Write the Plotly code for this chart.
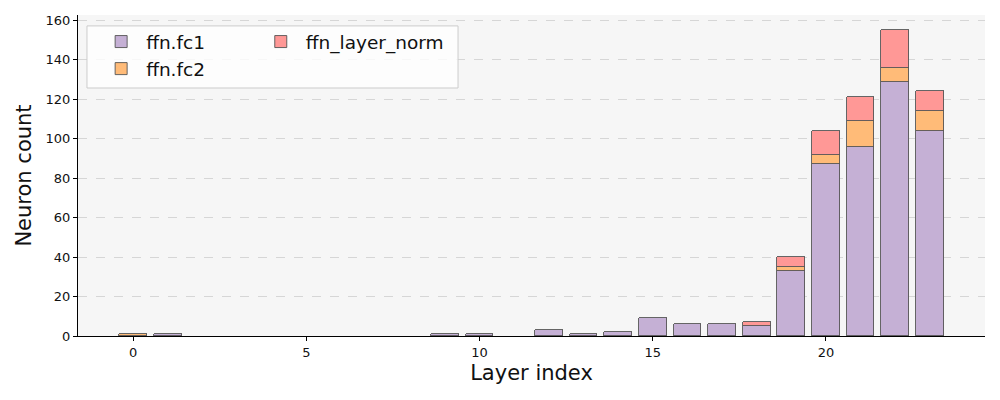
import plotly.graph_objects as go

layers = list(range(24))
fc1 = [0, 1, 0, 0, 0, 0, 0, 0, 0, 1, 1, 0, 3, 1, 2, 9, 6, 6, 5, 33, 87, 96, 129, 104]
fc2 = [1, 0, 0, 0, 0, 0, 0, 0, 0, 0, 0, 0, 0, 0, 0, 0, 0, 0, 0, 2, 5, 13, 7, 10]
norm = [0, 0, 0, 0, 0, 0, 0, 0, 0, 0, 0, 0, 0, 0, 0, 0, 0, 0, 2, 5, 12, 12, 19, 10]

series = [
    ("ffn.fc1", fc1, "#c5b0d5", "legend"),
    ("ffn.fc2", fc2, "#ffbb78", "legend"),
    ("ffn_layer_norm", norm, "#ff9896", "legend2"),
]

fig = go.Figure()
for name, vals, color, leg in series:
    # zero-height segments are not drawn (no visible edge line)
    yvals = [v if v != 0 else None for v in vals]
    fig.add_trace(go.Bar(
        x=layers, y=yvals, name=name, width=0.8,
        marker=dict(color=color, line=dict(color="#555555", width=0.9)),
        legend=leg,
    ))

font = "DejaVu Sans"
fig.update_layout(
    width=992, height=392,
    barmode="stack",
    paper_bgcolor="white",
    plot_bgcolor="#f6f6f6",
    margin=dict(l=70, r=15, t=7, b=64, autoexpand=False),
    font=dict(family=font, color="#111111"),
    xaxis=dict(
        range=[-1.59, 24.59], tickvals=[0, 5, 10, 15, 20],
        ticks="outside", ticklen=4, tickcolor="black",
        tickfont=dict(size=13, color="#111"),
        showgrid=False, zeroline=False, automargin=False,
        showline=True, linecolor="black", linewidth=1,
        title=dict(text="Layer index", font=dict(size=21), standoff=6),
    ),
    yaxis=dict(
        range=[0, 162.75], tickvals=list(range(0, 161, 20)),
        ticks="outside", ticklen=4, tickcolor="black",
        tickfont=dict(size=13, color="#111"),
        showgrid=True, gridcolor="#d6d6d6", griddash="dash", gridwidth=1,
        zeroline=False, automargin=False,
        showline=True, linecolor="black", linewidth=1,
        title=dict(text="Neuron count", font=dict(size=21), standoff=8),
    ),
    legend=dict(
        x=0.02, y=0.975, xanchor="left", yanchor="top",
        bgcolor="rgba(0,0,0,0)", borderwidth=0,
        font=dict(size=18.5, family=font), itemwidth=40,
        traceorder="normal",
    ),
    legend2=dict(
        x=0.196, y=0.975, xanchor="left", yanchor="top",
        bgcolor="rgba(0,0,0,0)", borderwidth=0,
        font=dict(size=18.5, family=font), itemwidth=40,
    ),
    shapes=[dict(
        type="rect", xref="paper", yref="paper",
        x0=0.0099, x1=0.419, y0=0.7726, y1=0.966,
        fillcolor="rgba(255,255,255,0.8)", line=dict(color="#cccccc", width=1),
        layer="above",
    )],
    bargap=0,
)
fig.write_html("out.html")
